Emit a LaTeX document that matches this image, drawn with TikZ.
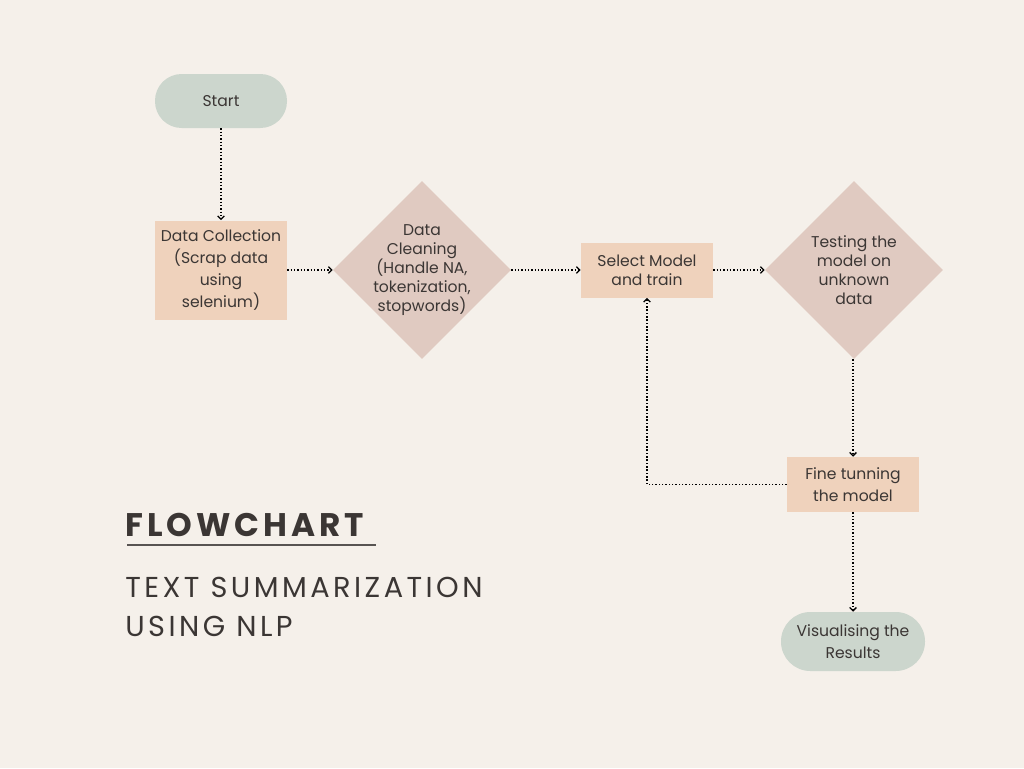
\documentclass[tikz,border=0pt]{standalone}
\usepackage{fontspec}
\setmainfont{Poppins}
\newfontfamily\titlefont[LetterSpace=12]{Poppins}
\usepackage{tikz}
\usetikzlibrary{shapes, arrows.meta}

\definecolor{bgcol}{HTML}{F5F0EA}
\definecolor{pillcol}{HTML}{CCD6CD}
\definecolor{boxcol}{HTML}{EFD2BC}
\definecolor{diacol}{HTML}{E0CAC1}
\definecolor{inkcol}{HTML}{3B3634}

\begin{document}
\begin{tikzpicture}[x=0.75pt, y=-0.75pt,
	every node/.style={text=inkcol, font=\fontsize{11.7pt}{14.25pt}\selectfont, align=center, inner sep=0pt},
	wide/.style={font=\fontsize{11.7pt}{16.5pt}\selectfont},
	pill/.style={fill=pillcol, rounded corners=20pt, minimum width=#1},
	box/.style={fill=boxcol, rectangle, minimum width=99pt},
	choice/.style={fill=diacol, diamond, aspect=1, minimum size=133.5pt},
	flow/.style={draw=black, line width=1.1pt, dash pattern=on 1.1pt off 1.4pt, -{Straight Barb[length=2.5pt, width=5pt, line width=1pt]}}]
	\def \rowy {270}

	\fill[bgcol] (0,0) rectangle (1024,768);
	\useasboundingbox (0,0) rectangle (1024,768);

	\node[pill=99pt, minimum height=40.5pt] (start) at (221,101)
		{Start};
	\node[box, wide, minimum height=74.25pt] (collection) at (221,\rowy)
		{Data Collection\\(Scrap data\\using\\selenium)};
	\node[choice, label={[align=center]center:Data\\Cleaning\\(Handle NA,\\tokenization,\\stopwords)}] (cleaning) at (422,\rowy)
		{};
	\node[box, minimum height=41.25pt] (select) at (647,\rowy)
		{Select Model\\and train};
	\node[choice, label={[align=center]center:Testing the\\model on\\unknown\\data}] (testing) at (854,\rowy)
		{};
	\node[box, wide, minimum height=41.25pt] (tuning) at (853,484.5)
		{Fine tunning\\the model};
	\node[pill=108pt, wide, minimum height=44.25pt, rounded corners=22pt] (results) at (853,641.5)
		{Visualising the\\Results};

	\draw[flow] (start) -- (collection);
	\draw[flow] (collection) -- (cleaning);
	\draw[flow] (cleaning) -- (select);
	\draw[flow] (select) -- (testing);
	\draw[flow] (testing.south -| tuning.north) -- (tuning.north);
	\draw[flow] (tuning.west) -| (select.south);
	\draw[flow] (tuning) -- (results);

	\node[anchor=base west, font=\titlefont\fontsize{24.5pt}{28pt}\selectfont\bfseries] (title) at (125,536)
		{FLOWCHART};
	\draw[draw=inkcol!85, line width=1.4pt] (127,545) -- (376,545);
	\node[anchor=base west, font=\titlefont\fontsize{21.6pt}{29.25pt}\selectfont, align=left] (subtitle) at (125,636)
		{TEXT SUMMARIZATION\\USING NLP};
\end{tikzpicture}
\end{document}
